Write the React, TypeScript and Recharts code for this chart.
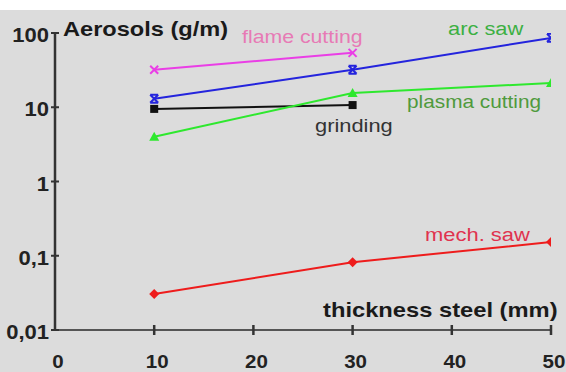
import React from "react";
import { LineChart, Line, XAxis, YAxis } from "recharts";

const thickness = [10, 30, 50];
const flameCutting = [32, 54];
const arcSaw = [13, 32, 86];
const grinding = [9.5, 10.7];
const plasmaCutting = [4, 15.6, 21.2];
const mechSaw = [0.0305, 0.082, 0.153];

const xTicks = [0, 10, 20, 30, 40, 50];
const yTicks = [0.01, 0.1, 1, 10, 100];

const toPoints = (vals: number[]) => vals.map((v, i) => ({ x: thickness[i], y: v }));

const FONT = "'Liberation Sans', Arial, sans-serif";

const fmtY = (v: number) => String(v).replace(".", ",");

const YTick = (props: any) => {
  const { x, y, payload } = props;
  return (
    <g>
      <line x1={x - 4} x2={x + 4} y1={y} y2={y} stroke="#333" strokeWidth={2} />
      <text
        transform={`translate(${x - 6},${y + 9}) scale(1.1,1)`}
        textAnchor="end"
        fontFamily={FONT}
        fontWeight="bold"
        fontSize={20}
        fill="#222"
      >
        {fmtY(payload.value)}
      </text>
    </g>
  );
};

const XTick = (props: any) => {
  const { x, y, payload } = props;
  return (
    <g>
      {payload.value > 0 && <line x1={x} x2={x} y1={y - 5} y2={y + 5} stroke="#333" strokeWidth={2.5} />}
      <text
        transform={`translate(${x + 3},${y + 38}) scale(1.08,1)`}
        textAnchor="middle"
        fontFamily={FONT}
        fontWeight="bold"
        fontSize={19}
        fill="#222"
      >
        {payload.value}
      </text>
    </g>
  );
};

const Cross = (color: string) => (p: any) => {
  const { cx, cy } = p;
  return (
    <path d={`M${cx - 4},${cy - 4}L${cx + 4},${cy + 4}M${cx - 4},${cy + 4}L${cx + 4},${cy - 4}`} stroke={color} strokeWidth={2} fill="none" />
  );
};

const Star = (color: string) => (p: any) => {
  const { cx, cy } = p;
  return (
    <path
      d={`M${cx - 4},${cy - 4}L${cx + 4},${cy + 4}M${cx - 4},${cy + 4}L${cx + 4},${cy - 4}M${cx - 4},${cy - 4}L${cx + 4},${cy - 4}M${cx - 4},${cy + 4}L${cx + 4},${cy + 4}`}
      stroke={color}
      strokeWidth={2}
      fill="none"
    />
  );
};

const Square = (color: string) => (p: any) => {
  const { cx, cy } = p;
  return <rect x={cx - 4} y={cy - 4} width={8} height={8} fill={color} />;
};

const Triangle = (color: string) => (p: any) => {
  const { cx, cy } = p;
  return <path d={`M${cx},${cy - 5}L${cx + 5},${cy + 4}L${cx - 5},${cy + 4}Z`} fill={color} />;
};

const Diamond = (color: string) => (p: any) => {
  const { cx, cy } = p;
  return <path d={`M${cx},${cy - 5}L${cx + 5},${cy}L${cx},${cy + 5}L${cx - 5},${cy}Z`} fill={color} />;
};

const labels = [
  { text: "Aerosols (g/m)", x: 63, y: 36, size: 20, bold: true, color: "#1a1a1a", sx: 1.18 },
  { text: "flame cutting", x: 242, y: 43, size: 19, bold: false, color: "#e77ab5", sx: 1.12 },
  { text: "arc saw", x: 448, y: 35, size: 19, bold: false, color: "#3cb043", sx: 1.15 },
  { text: "plasma cutting", x: 407, y: 108, size: 19, bold: false, color: "#4f9a3c", sx: 1.095 },
  { text: "grinding", x: 315, y: 132, size: 19, bold: false, color: "#333", sx: 1.15 },
  { text: "mech. saw", x: 425, y: 241, size: 19, bold: false, color: "#e0334f", sx: 1.156 },
  { text: "thickness steel (mm)", x: 323, y: 317, size: 21, bold: true, color: "#1a1a1a", sx: 1.13 },
];

export default function App() {
  return (
    <div
      style={{
        position: "absolute",
        left: 0,
        top: 0,
        width: 566,
        height: 372,
        background: "linear-gradient(#ffffff 0px, #ffffff 10px, #dcdcdc 10px)",
      }}
    >
      <LineChart width={566} height={372} margin={{ top: 33, right: 15, bottom: 0, left: 5 }}>
        <XAxis
          type="number"
          dataKey="x"
          domain={[0, 50]}
          ticks={xTicks}
          allowDataOverflow
          height={42}
          tickSize={0}
          tickMargin={0}
          tick={XTick}
          axisLine={{ stroke: "#555", strokeWidth: 2 }}
          tickLine={false}
        />
        <YAxis
          type="number"
          scale="log"
          domain={[0.01, 100]}
          ticks={yTicks}
          allowDataOverflow
          width={50}
          tickSize={0}
          tickMargin={0}
          tick={YTick}
          axisLine={{ stroke: "#333", strokeWidth: 2.5 }}
          tickLine={false}
        />
        <Line data={toPoints(flameCutting)} dataKey="y" stroke="#ea3ee6" strokeWidth={2} dot={Cross("#ea3ee6")} isAnimationActive={false} />
        <Line data={toPoints(arcSaw)} dataKey="y" stroke="#2424dd" strokeWidth={2} dot={Star("#2424dd")} isAnimationActive={false} />
        <Line data={toPoints(grinding)} dataKey="y" stroke="#111" strokeWidth={2} dot={Square("#111")} isAnimationActive={false} />
        <Line data={toPoints(plasmaCutting)} dataKey="y" stroke="#2ee82e" strokeWidth={2} dot={Triangle("#2ee82e")} isAnimationActive={false} />
        <Line data={toPoints(mechSaw)} dataKey="y" stroke="#ee1c1c" strokeWidth={2} dot={Diamond("#ee1c1c")} isAnimationActive={false} />
      </LineChart>
      <svg width={566} height={372} style={{ position: "absolute", left: 0, top: 0, pointerEvents: "none" }}>
        {labels.map((l) => (
          <text
            key={l.text}
            transform={`translate(${l.x},${l.y}) scale(${l.sx},1)`}
            fontFamily={FONT}
            fontSize={l.size}
            fontWeight={l.bold ? "bold" : "normal"}
            fill={l.color}
          >
            {l.text}
          </text>
        ))}
      </svg>
    </div>
  );
}
